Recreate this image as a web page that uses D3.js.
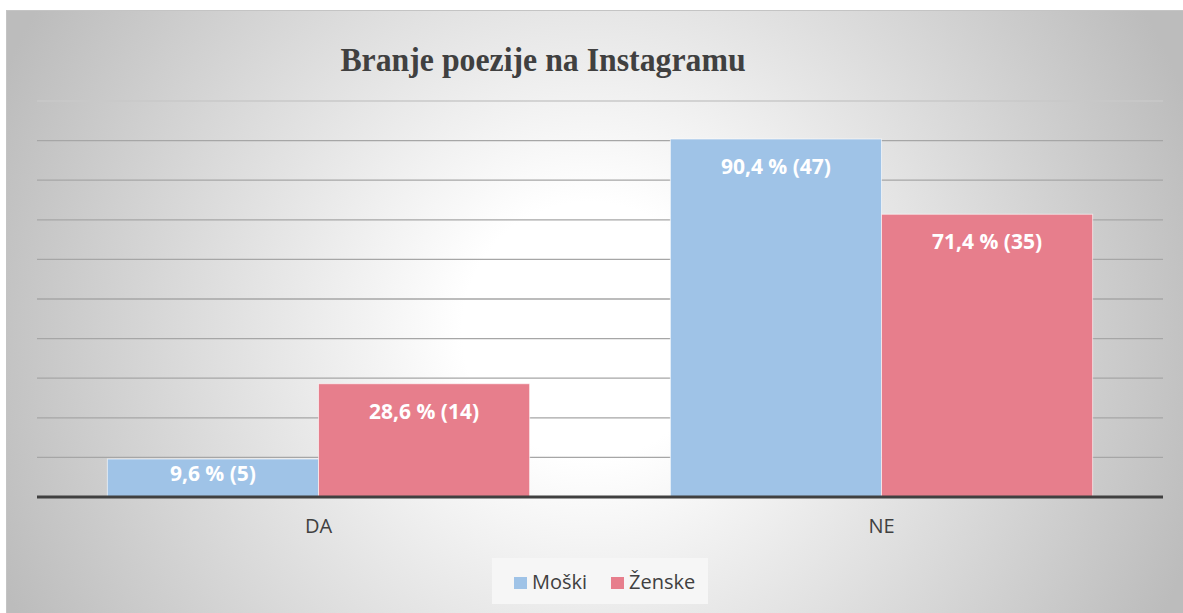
<!DOCTYPE html>
<html>
<head>
<meta charset="utf-8">
<script src="https://cdn.jsdelivr.net/npm/d3@7"></script>
<style>
  body { margin: 0; background: #fff; }
  svg { display: block; }
</style>
</head>
<body>
<div id="chart-area"><svg></svg></div>
<script>
const categories = ["DA", "NE"];
const seriesNames = ["Moški", "Ženske"];
const moski = [9.6, 90.4];
const zenske = [28.6, 71.4];
const moskiCounts = [5, 47];
const zenskeCounts = [14, 35];
const yTicks = [0, 10, 20, 30, 40, 50, 60, 70, 80, 90, 100];

const chartSize = { width: 1183, height: 613 };
const margin = { left: 37, right: 20, top: 101, bottom: 116 };
const width = chartSize.width - margin.left - margin.right;
const height = chartSize.height - margin.top - margin.bottom;

const colors = { "Moški": "#9fc3e7", "Ženske": "#e77e8c" };
const fmt = v => v.toFixed(1).replace(".", ",");

const svg = d3.select("#chart-area svg")
  .attr("width", chartSize.width)
  .attr("height", chartSize.height);

const defs = svg.append("defs");
const grad = defs.append("radialGradient")
  .attr("id", "bg")
  .attr("gradientUnits", "userSpaceOnUse")
  .attr("cx", 590).attr("cy", 330).attr("r", 640);
grad.append("stop").attr("offset", 0).attr("stop-color", "#ffffff");
grad.append("stop").attr("offset", 0.2).attr("stop-color", "#ffffff");
grad.append("stop").attr("offset", 1).attr("stop-color", "#bcbcbc");

svg.append("rect")
  .attr("x", 6.5).attr("y", 10.5)
  .attr("width", 1180).attr("height", 605)
  .attr("fill", "url(#bg)")
  .attr("stroke", "#c4c4c4");

// title (slightly condensed serif)
svg.append("text")
  .attr("transform", "translate(543, 71) scale(0.935, 1)")
  .attr("text-anchor", "middle")
  .attr("font-family", "'Liberation Serif', 'Times New Roman', serif")
  .attr("font-weight", "bold")
  .attr("font-size", 34)
  .attr("fill", "#404040")
  .text("Branje poezije na Instagramu");

const g = svg.append("g")
  .attr("transform", `translate(${margin.left}, ${margin.top})`);

const y = d3.scaleLinear().domain([0, 100]).range([height, 0]);
const x0 = d3.scaleBand().domain(categories).range([0, width]).paddingInner(0.25).paddingOuter(0.125);
const x1 = d3.scaleBand().domain(seriesNames).range([0, x0.bandwidth()]);

// gridlines
g.append("g")
  .selectAll("line")
  .data(yTicks.filter(t => t > 0))
  .join("line")
  .attr("x1", 0).attr("x2", width)
  .attr("y1", d => y(d)).attr("y2", d => y(d))
  .attr("stroke", d => d === 100 ? "#c8c8c8" : "#a6a6a6")
  .attr("stroke-width", 1.3);

const rows = categories.map((c, i) => ({
  cat: c,
  vals: [
    { s: "Moški", v: moski[i], n: moskiCounts[i] },
    { s: "Ženske", v: zenske[i], n: zenskeCounts[i] }
  ]
}));

const groups = g.selectAll(".grp")
  .data(rows)
  .join("g")
  .attr("class", "grp")
  .attr("transform", d => `translate(${x0(d.cat)}, 0)`);

groups.selectAll("rect")
  .data(d => d.vals)
  .join("rect")
  .attr("x", d => x1(d.s))
  .attr("y", d => y(d.v))
  .attr("width", x1.bandwidth())
  .attr("height", d => height - y(d.v))
  .attr("fill", d => colors[d.s])
  .attr("stroke", "rgba(255,255,255,0.6)")
  .attr("stroke-width", 1);

groups.selectAll("text")
  .data(d => d.vals)
  .join("text")
  .attr("x", d => x1(d.s) + x1.bandwidth() / 2)
  .attr("y", d => {
    const h = height - y(d.v);
    return y(d.v) + (h < 60 ? 22 : 35);
  })
  .attr("text-anchor", "middle")
  .attr("font-family", "'Open Sans', sans-serif")
  .attr("font-weight", "bold")
  .attr("font-size", 21)
  .attr("fill", "#ffffff")
  .text(d => `${fmt(d.v)} % (${d.n})`);

// x axis
const xAxis = g.append("g")
  .attr("transform", `translate(0, ${height})`)
  .call(d3.axisBottom(x0).tickSize(0).tickPadding(22));
xAxis.select(".domain")
  .attr("stroke", "#404040")
  .attr("stroke-width", 3)
  .attr("d", `M0,0H${width}`);
xAxis.selectAll("text")
  .attr("font-family", "'Open Sans', sans-serif")
  .attr("font-size", 20)
  .attr("fill", "#404040");

// legend
const legend = svg.append("g");
legend.append("rect")
  .attr("x", 492).attr("y", 558)
  .attr("width", 216).attr("height", 46)
  .attr("fill", "#f6f6f6");

const legendX = [514, 611];
const items = legend.selectAll(".item")
  .data(seriesNames)
  .join("g")
  .attr("class", "item")
  .attr("transform", (d, i) => `translate(${legendX[i]}, 577)`);
items.append("rect")
  .attr("width", 13).attr("height", 12)
  .attr("fill", d => colors[d]);
items.append("text")
  .attr("x", 18).attr("y", 12)
  .attr("font-family", "'Open Sans', sans-serif")
  .attr("font-size", 20)
  .attr("fill", "#404040")
  .text(d => d);
</script>
</body>
</html>
